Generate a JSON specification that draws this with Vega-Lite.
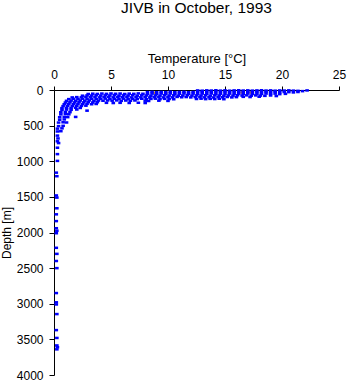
{
  "$schema": "https://vega.github.io/schema/vega-lite/v6.json",
  "width": 285,
  "height": 285,
  "autosize": {"type": "none"},
  "padding": {"left": 54, "top": 90, "right": 9, "bottom": 9},
  "background": "white",
  "title": {"text": "JIVB in October, 1993", "font": "Liberation Sans", "fontSize": 15.5, "fontWeight": "normal", "color": "black", "anchor": "middle", "offset": 36},
  "config": {"view": {"stroke": null}},
  "data": {"values": [
    {"t":8.8,"d":38,"s":"b"},{"t":9.8,"d":38,"s":"b"},{"t":16.5,"d":35,"s":"b"},{"t":17.3,"d":35,"s":"b"},
    {"t":12.6,"d":6,"s":"a"},{"t":13.0,"d":10,"s":"a"},{"t":13.4,"d":5,"s":"a"},{"t":13.8,"d":8,"s":"a"},{"t":14.2,"d":4,"s":"a"},{"t":14.6,"d":9,"s":"a"},{"t":15.0,"d":5,"s":"a"},{"t":15.4,"d":10,"s":"a"},{"t":15.8,"d":6,"s":"a"},{"t":16.2,"d":4,"s":"a"},{"t":16.6,"d":8,"s":"a"},{"t":17.0,"d":5,"s":"a"},{"t":17.4,"d":9,"s":"a"},{"t":17.8,"d":6,"s":"a"},{"t":18.2,"d":4,"s":"a"},{"t":18.6,"d":8,"s":"a"},{"t":19.0,"d":5,"s":"a"},{"t":19.4,"d":10,"s":"a"},{"t":19.8,"d":6,"s":"a"},{"t":20.2,"d":8,"s":"a"},{"t":20.6,"d":5,"s":"a"},{"t":21.0,"d":9,"s":"a"},{"t":21.4,"d":12,"s":"a"},{"t":21.8,"d":16,"s":"a"},{"t":22.2,"d":6,"s":"a"},
    {"t":8.2,"d":30,"s":"a"},{"t":8.6,"d":26,"s":"a"},{"t":9.0,"d":32,"s":"a"},{"t":9.4,"d":27,"s":"a"},{"t":9.8,"d":30,"s":"a"},{"t":10.2,"d":25,"s":"a"},{"t":10.6,"d":31,"s":"a"},{"t":11.0,"d":28,"s":"a"},{"t":11.4,"d":26,"s":"a"},{"t":11.8,"d":32,"s":"a"},{"t":12.2,"d":28,"s":"a"},{"t":12.6,"d":25,"s":"a"},{"t":13.0,"d":30,"s":"a"},{"t":13.4,"d":27,"s":"a"},{"t":13.8,"d":31,"s":"a"},{"t":14.2,"d":26,"s":"a"},{"t":14.6,"d":29,"s":"a"},{"t":15.0,"d":25,"s":"a"},{"t":15.4,"d":32,"s":"a"},{"t":15.8,"d":28,"s":"a"},{"t":16.2,"d":26,"s":"a"},{"t":16.6,"d":30,"s":"a"},{"t":17.0,"d":27,"s":"a"},{"t":17.4,"d":31,"s":"a"},{"t":17.8,"d":26,"s":"a"},{"t":18.2,"d":29,"s":"a"},{"t":18.6,"d":25,"s":"a"},{"t":19.0,"d":30,"s":"a"},{"t":19.4,"d":27,"s":"a"},{"t":19.8,"d":32,"s":"a"},{"t":20.2,"d":28,"s":"a"},{"t":20.6,"d":30,"s":"a"},{"t":21.0,"d":34,"s":"a"},{"t":21.4,"d":28,"s":"a"},
    {"t":3.0,"d":56,"s":"a"},{"t":3.4,"d":52,"s":"a"},{"t":3.8,"d":55,"s":"a"},{"t":4.2,"d":50,"s":"a"},{"t":4.6,"d":54,"s":"a"},{"t":5.0,"d":49,"s":"a"},{"t":5.4,"d":53,"s":"a"},{"t":5.8,"d":50,"s":"a"},{"t":6.2,"d":56,"s":"a"},{"t":6.6,"d":51,"s":"a"},{"t":7.0,"d":54,"s":"a"},{"t":7.4,"d":48,"s":"a"},{"t":7.8,"d":53,"s":"a"},{"t":8.2,"d":57,"s":"a"},{"t":8.6,"d":51,"s":"a"},{"t":9.0,"d":55,"s":"a"},{"t":9.4,"d":50,"s":"a"},{"t":9.8,"d":54,"s":"a"},{"t":10.2,"d":49,"s":"a"},{"t":10.6,"d":56,"s":"a"},{"t":11.0,"d":52,"s":"a"},{"t":11.4,"d":48,"s":"a"},{"t":11.8,"d":54,"s":"a"},{"t":12.2,"d":51,"s":"a"},{"t":12.6,"d":55,"s":"a"},{"t":13.0,"d":50,"s":"a"},{"t":13.4,"d":53,"s":"a"},{"t":13.8,"d":49,"s":"a"},{"t":14.2,"d":56,"s":"a"},{"t":14.6,"d":52,"s":"a"},{"t":15.0,"d":54,"s":"a"},{"t":15.4,"d":50,"s":"a"},{"t":15.8,"d":55,"s":"a"},{"t":16.2,"d":51,"s":"a"},{"t":16.6,"d":53,"s":"a"},{"t":17.0,"d":49,"s":"a"},{"t":17.4,"d":56,"s":"a"},{"t":17.8,"d":52,"s":"a"},{"t":18.2,"d":54,"s":"a"},{"t":18.6,"d":50,"s":"a"},{"t":19.0,"d":55,"s":"a"},{"t":19.4,"d":51,"s":"a"},{"t":19.8,"d":58,"s":"a"},{"t":20.3,"d":54,"s":"a"},
    {"t":2.5,"d":80,"s":"a"},{"t":2.9,"d":76,"s":"a"},{"t":3.3,"d":78,"s":"a"},{"t":3.7,"d":74,"s":"a"},{"t":4.1,"d":79,"s":"a"},{"t":4.5,"d":75,"s":"a"},{"t":4.9,"d":77,"s":"a"},{"t":5.3,"d":73,"s":"a"},{"t":5.7,"d":80,"s":"a"},{"t":6.1,"d":76,"s":"a"},{"t":6.5,"d":78,"s":"a"},{"t":6.9,"d":74,"s":"a"},{"t":7.3,"d":79,"s":"a"},{"t":7.7,"d":75,"s":"a"},{"t":8.1,"d":77,"s":"a"},{"t":8.5,"d":81,"s":"a"},{"t":8.9,"d":76,"s":"a"},{"t":9.3,"d":79,"s":"a"},{"t":9.7,"d":74,"s":"a"},{"t":10.1,"d":78,"s":"a"},{"t":10.5,"d":75,"s":"a"},{"t":10.9,"d":80,"s":"a"},{"t":11.3,"d":77,"s":"a"},{"t":11.7,"d":73,"s":"a"},{"t":12.1,"d":79,"s":"a"},{"t":12.5,"d":76,"s":"a"},{"t":12.9,"d":78,"s":"a"},{"t":13.3,"d":74,"s":"a"},{"t":13.7,"d":80,"s":"a"},{"t":14.1,"d":75,"s":"a"},{"t":14.5,"d":77,"s":"a"},{"t":14.9,"d":81,"s":"a"},{"t":15.3,"d":76,"s":"a"},{"t":15.7,"d":79,"s":"a"},{"t":16.1,"d":74,"s":"a"},{"t":16.5,"d":78,"s":"a"},{"t":16.9,"d":75,"s":"a"},{"t":17.3,"d":80,"s":"a"},{"t":17.7,"d":76,"s":"a"},{"t":18.1,"d":79,"s":"a"},{"t":18.5,"d":82,"s":"a"},{"t":19.0,"d":77,"s":"a"},{"t":19.5,"d":85,"s":"a"},
    {"t":1.6,"d":104,"s":"a"},{"t":2.0,"d":100,"s":"a"},{"t":2.4,"d":103,"s":"a"},{"t":2.8,"d":98,"s":"a"},{"t":3.2,"d":102,"s":"a"},{"t":3.6,"d":99,"s":"a"},{"t":4.0,"d":104,"s":"a"},{"t":4.4,"d":100,"s":"a"},{"t":4.8,"d":97,"s":"a"},{"t":5.2,"d":103,"s":"a"},{"t":5.6,"d":99,"s":"a"},{"t":6.0,"d":102,"s":"a"},{"t":6.4,"d":98,"s":"a"},{"t":6.8,"d":104,"s":"a"},{"t":7.2,"d":100,"s":"a"},{"t":7.6,"d":103,"s":"a"},{"t":8.0,"d":99,"s":"a"},{"t":8.4,"d":105,"s":"a"},{"t":8.8,"d":101,"s":"a"},{"t":9.2,"d":98,"s":"a"},{"t":9.6,"d":104,"s":"a"},{"t":10.0,"d":100,"s":"a"},{"t":10.4,"d":103,"s":"a"},{"t":10.8,"d":97,"s":"a"},{"t":11.2,"d":102,"s":"a"},{"t":11.6,"d":99,"s":"a"},{"t":12.0,"d":104,"s":"a"},{"t":12.4,"d":100,"s":"a"},{"t":12.8,"d":98,"s":"a"},{"t":13.2,"d":103,"s":"a"},{"t":13.6,"d":101,"s":"a"},{"t":14.0,"d":105,"s":"a"},{"t":14.4,"d":99,"s":"a"},{"t":14.8,"d":102,"s":"a"},{"t":15.2,"d":98,"s":"a"},{"t":15.6,"d":104,"s":"a"},{"t":16.0,"d":100,"s":"a"},{"t":16.6,"d":96,"s":"a"},{"t":17.2,"d":99,"s":"a"},{"t":18.0,"d":95,"s":"a"},
    {"t":1.3,"d":128,"s":"a"},{"t":1.7,"d":124,"s":"a"},{"t":2.1,"d":127,"s":"a"},{"t":2.5,"d":122,"s":"a"},{"t":2.9,"d":126,"s":"a"},{"t":3.3,"d":123,"s":"a"},{"t":3.7,"d":128,"s":"a"},{"t":4.1,"d":124,"s":"a"},{"t":4.5,"d":121,"s":"a"},{"t":4.9,"d":127,"s":"a"},{"t":5.3,"d":123,"s":"a"},{"t":5.7,"d":126,"s":"a"},{"t":6.1,"d":122,"s":"a"},{"t":6.5,"d":128,"s":"a"},{"t":6.9,"d":124,"s":"a"},{"t":7.3,"d":127,"s":"a"},{"t":7.7,"d":123,"s":"a"},{"t":8.1,"d":129,"s":"a"},{"t":8.5,"d":125,"s":"a"},{"t":8.9,"d":122,"s":"a"},{"t":9.3,"d":128,"s":"a"},{"t":9.7,"d":124,"s":"a"},{"t":10.1,"d":126,"s":"a"},{"t":10.5,"d":130,"s":"a"},{"t":12.5,"d":126,"s":"a"},{"t":12.9,"d":122,"s":"a"},{"t":13.3,"d":128,"s":"a"},{"t":13.7,"d":124,"s":"a"},{"t":14.1,"d":127,"s":"a"},{"t":14.5,"d":123,"s":"a"},{"t":14.9,"d":129,"s":"a"},
    {"t":1.1,"d":152,"s":"a"},{"t":1.5,"d":148,"s":"a"},{"t":1.9,"d":151,"s":"a"},{"t":2.3,"d":147,"s":"a"},{"t":2.7,"d":150,"s":"a"},{"t":3.1,"d":146,"s":"a"},{"t":3.5,"d":152,"s":"a"},{"t":3.9,"d":148,"s":"a"},{"t":4.3,"d":151,"s":"a"},{"t":4.7,"d":147,"s":"a"},{"t":5.1,"d":150,"s":"a"},{"t":5.5,"d":146,"s":"a"},{"t":5.9,"d":152,"s":"a"},{"t":6.3,"d":148,"s":"a"},{"t":6.7,"d":151,"s":"a"},{"t":7.1,"d":147,"s":"a"},{"t":8.0,"d":150,"s":"a"},{"t":8.3,"d":154,"s":"a"},{"t":9.2,"d":150,"s":"a"},{"t":10.0,"d":153,"s":"a"},
    {"t":1.0,"d":176,"s":"a"},{"t":1.4,"d":172,"s":"a"},{"t":1.8,"d":175,"s":"a"},{"t":2.2,"d":171,"s":"a"},{"t":2.6,"d":174,"s":"a"},{"t":3.0,"d":170,"s":"a"},{"t":3.4,"d":176,"s":"a"},{"t":3.8,"d":172,"s":"a"},{"t":4.6,"d":180,"s":"a"},{"t":5.2,"d":183,"s":"a"},{"t":5.8,"d":180,"s":"a"},{"t":6.6,"d":182,"s":"a"},{"t":7.4,"d":179,"s":"a"},{"t":8.0,"d":183,"s":"a"},
    {"t":0.9,"d":200,"s":"a"},{"t":1.3,"d":196,"s":"a"},{"t":1.7,"d":199,"s":"a"},{"t":2.1,"d":195,"s":"a"},{"t":2.5,"d":198,"s":"a"},{"t":2.9,"d":194,"s":"a"},{"t":3.3,"d":200,"s":"a"},{"t":3.7,"d":196,"s":"a"},
    {"t":0.8,"d":226,"s":"a"},{"t":1.2,"d":222,"s":"a"},{"t":1.6,"d":225,"s":"a"},{"t":2.0,"d":221,"s":"a"},{"t":2.4,"d":224,"s":"a"},{"t":2.8,"d":220,"s":"a"},
    {"t":0.7,"d":254,"s":"a"},{"t":1.1,"d":250,"s":"a"},{"t":1.5,"d":253,"s":"a"},{"t":1.9,"d":249,"s":"a"},{"t":2.3,"d":252,"s":"a"},
    {"t":0.7,"d":279,"s":"a"},{"t":1.1,"d":275,"s":"a"},{"t":1.5,"d":278,"s":"a"},{"t":2.0,"d":274,"s":"a"},{"t":2.9,"d":290,"s":"a"},
    {"t":0.6,"d":312,"s":"a"},{"t":1.0,"d":308,"s":"a"},{"t":1.4,"d":311,"s":"a"},
    {"t":0.6,"d":342,"s":"a"},{"t":1.0,"d":338,"s":"a"},{"t":1.3,"d":341,"s":"a"},
    {"t":0.5,"d":382,"s":"a"},{"t":0.9,"d":378,"s":"a"},{"t":1.2,"d":381,"s":"a"},{"t":1.9,"d":378,"s":"a"},
    {"t":0.5,"d":417,"s":"a"},{"t":0.9,"d":413,"s":"a"},
    {"t":0.4,"d":457,"s":"a"},{"t":0.8,"d":453,"s":"a"},{"t":1.1,"d":456,"s":"a"},
    {"t":0.4,"d":507,"s":"a"},{"t":0.8,"d":503,"s":"a"},
    {"t":0.3,"d":542,"s":"a"},{"t":0.7,"d":538,"s":"a"},
    {"t":0.3,"d":582,"s":"a"},{"t":0.6,"d":578,"s":"a"},
    {"t":0.3,"d":640,"s":"a"},{"t":0.35,"d":680,"s":"a"},{"t":0.3,"d":720,"s":"a"},{"t":0.4,"d":745,"s":"a"},{"t":0.3,"d":810,"s":"a"},{"t":0.3,"d":900,"s":"a"},{"t":0.3,"d":995,"s":"a"},{"t":0.2,"d":1160,"s":"a"},{"t":0.25,"d":1210,"s":"a"},{"t":0.2,"d":1480,"s":"a"},{"t":0.25,"d":1510,"s":"a"},{"t":0.25,"d":1660,"s":"a"},{"t":0.2,"d":1745,"s":"a"},{"t":0.2,"d":1840,"s":"a"},{"t":0.2,"d":1940,"s":"a"},{"t":0.25,"d":1975,"s":"a"},{"t":0.2,"d":2010,"s":"a"},{"t":0.2,"d":2215,"s":"a"},{"t":0.25,"d":2300,"s":"a"},{"t":0.2,"d":2400,"s":"a"},{"t":0.25,"d":2500,"s":"a"},{"t":0.2,"d":2850,"s":"a"},{"t":0.2,"d":2980,"s":"a"},{"t":0.2,"d":3010,"s":"a"},{"t":0.25,"d":3145,"s":"a"},{"t":0.2,"d":3370,"s":"a"},{"t":0.25,"d":3480,"s":"a"},{"t":0.25,"d":3585,"s":"a"},{"t":0.3,"d":3610,"s":"a"},{"t":0.25,"d":3640,"s":"a"}
  ]},
  "mark": {"type": "point", "filled": true, "shape": "M-1,-0.7H1V0.7H-1Z", "size": 13, "opacity": 1, "strokeWidth": 0},
  "encoding": {
    "x": {"field": "t", "type": "quantitative", "scale": {"domain": [0, 25], "nice": false, "zero": false},
      "axis": {"orient": "top", "title": "Temperature [°C]", "values": [0, 5, 10, 15, 20, 25], "format": "d", "grid": false, "domainColor": "black", "tickColor": "black", "tickSize": 4, "labelFont": "Liberation Sans", "labelFontSize": 12, "labelColor": "black", "labelPadding": 5, "titleFont": "Liberation Sans", "titleFontSize": 13, "titleFontWeight": "normal", "titleColor": "black", "titlePadding": 3, "labelFlush": false}},
    "y": {"field": "d", "type": "quantitative", "scale": {"domain": [0, 4000], "reverse": true, "nice": false, "zero": false},
      "axis": {"title": "Depth [m]", "values": [0, 500, 1000, 1500, 2000, 2500, 3000, 3500, 4000], "format": "d", "grid": false, "domainColor": "black", "tickColor": "black", "tickSize": 5, "labelFont": "Liberation Sans", "labelFontSize": 12, "labelColor": "black", "labelPadding": 6, "titleFont": "Liberation Sans", "titleFontSize": 12, "titleFontWeight": "normal", "titleColor": "black", "titlePadding": 3, "labelFlush": false}},
    "color": {"field": "s", "type": "nominal", "scale": {"domain": ["a", "b"], "range": ["#0000ff", "#ffa500"]}, "legend": null}
  }
}
